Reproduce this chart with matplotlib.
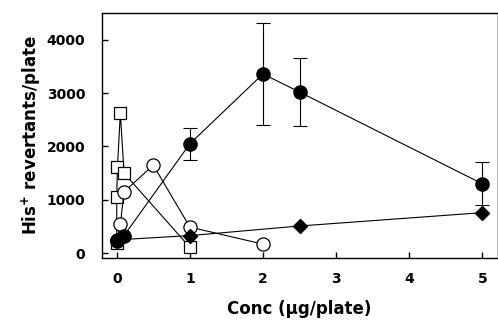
import matplotlib
matplotlib.use("Agg")
import matplotlib.pyplot as plt

plt.rcParams['font.family'] = ['DejaVu Sans']

# Filled circles (with error bars)
fc_x = [0, 0.1, 1, 2, 2.5, 5]
fc_y = [230, 330, 2050, 3360, 3020, 1300]
fc_err = [0, 0, 300, 950, 640, 400]

# Filled diamonds
fd_x = [0, 1, 2.5, 5]
fd_y = [250, 330, 510, 760]

# Open circles
oc_x = [0, 0.05, 0.1, 0.5, 1, 2]
oc_y = [250, 545, 1150, 1650, 490, 170]

# Open squares
os_x = [0, 0, 0.01, 0.05, 0.1, 1]
os_y = [200, 1050, 1615, 2630, 1500, 110]

xticks = [0, 1, 2, 3, 4, 5]
yticks = [0, 1000, 2000, 3000, 4000]

fig = plt.figure(figsize=(4.98, 3.27), dpi=100)
ax = fig.add_axes([0.205, 0.211, 0.793, 0.749])

lw = 0.8
ax.plot(os_x, os_y, '-', color='black', lw=lw, marker='s', ms=9,
        mfc='white', mec='black', mew=0.9, zorder=3)
ax.plot(oc_x, oc_y, '-', color='black', lw=lw, marker='o', ms=9.5,
        mfc='white', mec='black', mew=0.9, zorder=3)
ax.plot(fd_x, fd_y, '-', color='black', lw=lw, marker='D', ms=7.5,
        mfc='black', mec='black', zorder=4)
ax.errorbar(fc_x, fc_y, yerr=fc_err, fmt='-o', color='black', lw=lw,
            ms=9.5, mfc='black', mec='black', ecolor='black', elinewidth=0.8,
            capsize=5, capthick=0.8, zorder=5)

ax.set_xlim(-0.2, 5.2)
ax.set_ylim(-90, 4500)
ax.set_xticks(xticks)
ax.set_yticks(yticks)
ax.tick_params(direction='in', length=4, width=1, labelsize=10)
for lab in ax.get_xticklabels() + ax.get_yticklabels():
    lab.set_fontweight('bold')
ax.tick_params(axis='x', pad=10)
ax.tick_params(axis='y', pad=12)
for s in ['left', 'bottom', 'top']:
    ax.spines[s].set_linewidth(1.0)
ax.spines['right'].set_color('#bbbbbb')
ax.spines['right'].set_linewidth(0.8)

ax.set_xlabel('Conc (µg/plate)', fontsize=12, fontweight='bold', labelpad=10)
ax.set_ylabel('His$^{\\mathbf{+}}$ revertants/plate', fontsize=12, fontweight='bold', labelpad=3)

fig.savefig('out.png', dpi=100)
